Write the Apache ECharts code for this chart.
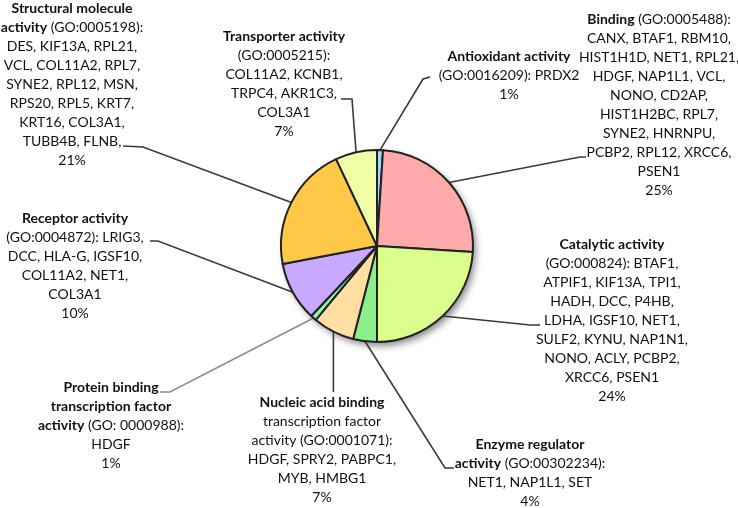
<!DOCTYPE html>
<html>
<head>
<meta charset="utf-8">
<script src="https://cdn.jsdelivr.net/npm/echarts@6/dist/echarts.min.js"></script>
<style>
    html, body { margin: 0; padding: 0; background: #fff; }
    #chart { width: 738px; height: 508px; }
</style>
</head>
<body>
<div id="chart"></div>
<script>
// GO 分子功能分类（饼图）
const categories = [
    'Antioxidant activity',
    'Binding',
    'Catalytic activity',
    'Enzyme regulator activity',
    'Nucleic acid binding transcription factor activity',
    'Protein binding transcription factor activity',
    'Receptor activity',
    'Structural molecule activity',
    'Transporter activity'
];
const percents = [1, 25, 24, 4, 7, 1, 10, 21, 7];

// 标签文字（{b|..} 为粗体）
const labelLines = [
    ['{b|Antioxidant activity}', '{n|(GO:0016209): PRDX2}', '{n|1%}'],
    ['{b|Binding}{n| (GO:0005488):}', '{n|CANX, BTAF1, RBM10,}', '{n|HIST1H1D, NET1, RPL21,}',
        '{n|HDGF, NAP1L1, VCL,}', '{n|NONO, CD2AP,}', '{n|HIST1H2BC, RPL7,}', '{n|SYNE2, HNRNPU,}',
        '{n|PCBP2, RPL12, XRCC6,}', '{n|PSEN1}', '{n|25%}'],
    ['{b|Catalytic activity}', '{n|(GO:000824): BTAF1,}', '{n|ATPIF1, KIF13A, TPI1,}',
        '{n|HADH, DCC, P4HB,}', '{n|LDHA, IGSF10, NET1,}', '{n|SULF2, KYNU, NAP1N1,}',
        '{n|NONO, ACLY, PCBP2,}', '{n|XRCC6, PSEN1}', '{n|24%}'],
    ['{b|Enzyme regulator}', '{b|activity}{n| (GO:00302234):}', '{n|NET1, NAP1L1, SET}', '{n|4%}'],
    ['{b|Nucleic acid binding}', '{n|transcription factor}', '{n|activity (GO:0001071):}',
        '{n|HDGF, SPRY2, PABPC1,}', '{n|MYB, HMBG1}', '{n|7%}'],
    ['{b|Protein binding}', '{b|transcription factor}', '{b|activity}{n| (GO: 0000988):}', '{n|HDGF}', '{n|1%}'],
    ['{b|Receptor activity}', '{n|(GO:0004872): LRIG3,}', '{n|DCC, HLA-G, IGSF10,}',
        '{n|COL11A2, NET1,}', '{n|COL3A1}', '{n|10%}'],
    ['{b|Structural molecule}', '{b|activity}{n| (GO:0005198):}', '{n|DES, KIF13A, RPL21,}',
        '{n|VCL, COL11A2, RPL7,}', '{n|SYNE2, RPL12, MSN,}', '{n|RPS20, RPL5, KRT7,}',
        '{n|KRT16, COL3A1,}', '{n|TUBB4B, FLNB,}', '{n|21%}'],
    ['{b|Transporter activity}', '{n|(GO:0005215):}', '{n|COL11A2, KCNB1,}',
        '{n|TRPC4, AKR1C3,}', '{n|COL3A1}', '{n|7%}']
];

const sliceColors = ['#a6d8f2', '#ffaaaa', '#d9fe8c', '#8cef8c', '#ffdfa2', '#8cf2b6', '#c8a9fd', '#ffc846', '#f0fea6'];
const guideColors = ['#3a3a3a', '#3a3a3a', '#3a3a3a', '#3a3a3a', '#3a3a3a', '#8c8c8c', '#3a3a3a', '#3a3a3a', '#3a3a3a'];

// 标签位置：文字中心 x、首行顶部 y，以及引线的折点
const labelPos = [
    { x: 509, y: 47, guide: [[423, 79], [430, 77]] },
    { x: 659, y: 10, guide: [[580, 157], [586, 157]] },
    { x: 612, y: 235, guide: [[530, 325], [540, 325]] },
    { x: 530, y: 435, guide: [[445, 468], [454, 468]] },
    { x: 322, y: 393, guide: [[null, 392]] },
    { x: 111, y: 378, guide: [[170, 392], [160, 392]] },
    { x: 75, y: 209, guide: [[158, 241], [150, 241]] },
    { x: 72, y: -1, guide: [[143, 147], [123, 146]] },
    { x: 284, y: 27, guide: [[352, 99], [341, 99]] }
];

const FONT = 'Lato';
const chart = echarts.init(document.getElementById('chart'));

const option = {
    animation: false,
    series: [
        {
            // 阴影底盘
            type: 'pie',
            silent: true,
            center: [377, 246],
            radius: 96,
            z: 1,
            label: { show: false },
            labelLine: { show: false },
            data: [{
                value: percents.reduce((a, b) => a + b, 0),
                itemStyle: {
                    color: '#fff',
                    shadowBlur: 7,
                    shadowOffsetX: 3,
                    shadowOffsetY: 4,
                    shadowColor: 'rgba(0,0,0,0.45)'
                }
            }]
        },
        {
            type: 'pie',
            center: [377, 246],
            radius: 96,
            startAngle: 90,
            clockwise: true,
            z: 2,
            avoidLabelOverlap: false,
            itemStyle: {
                borderColor: '#222',
                borderWidth: 2
            },
            label: {
                show: true,
                position: 'outside',
                align: 'center',
                fontFamily: FONT,
                fontSize: 14,
                lineHeight: 19,
                color: '#111',
                formatter: p => labelLines[p.dataIndex].join('\n'),
                rich: {
                    b: { fontFamily: FONT, fontSize: 14, lineHeight: 19, fontWeight: 'bold', color: '#111', align: 'center' },
                    n: { fontFamily: FONT, fontSize: 14, lineHeight: 19, color: '#111', align: 'center' }
                }
            },
            labelLine: {
                show: true,
                length: 10,
                length2: 10,
                lineStyle: { width: 1.6 }
            },
            labelLayout: params => {
                const pos = labelPos[params.dataIndex];
                const start = params.labelLinePoints ? params.labelLinePoints[0] : null;
                const pts = start ? [start.slice()] : [];
                pos.guide.forEach(g => pts.push([g[0] == null && start ? start[0] : g[0], g[1]]));
                return {
                    x: pos.x,
                    y: pos.y,
                    align: 'center',
                    verticalAlign: 'top',
                    labelLinePoints: pts
                };
            },
            data: categories.map((name, i) => ({
                name: name,
                value: percents[i],
                itemStyle: { color: sliceColors[i] },
                labelLine: { lineStyle: { color: guideColors[i] } }
            }))
        }
    ]
};

chart.setOption(option);
window.addEventListener('resize', () => chart.resize());
</script>
</body>
</html>
